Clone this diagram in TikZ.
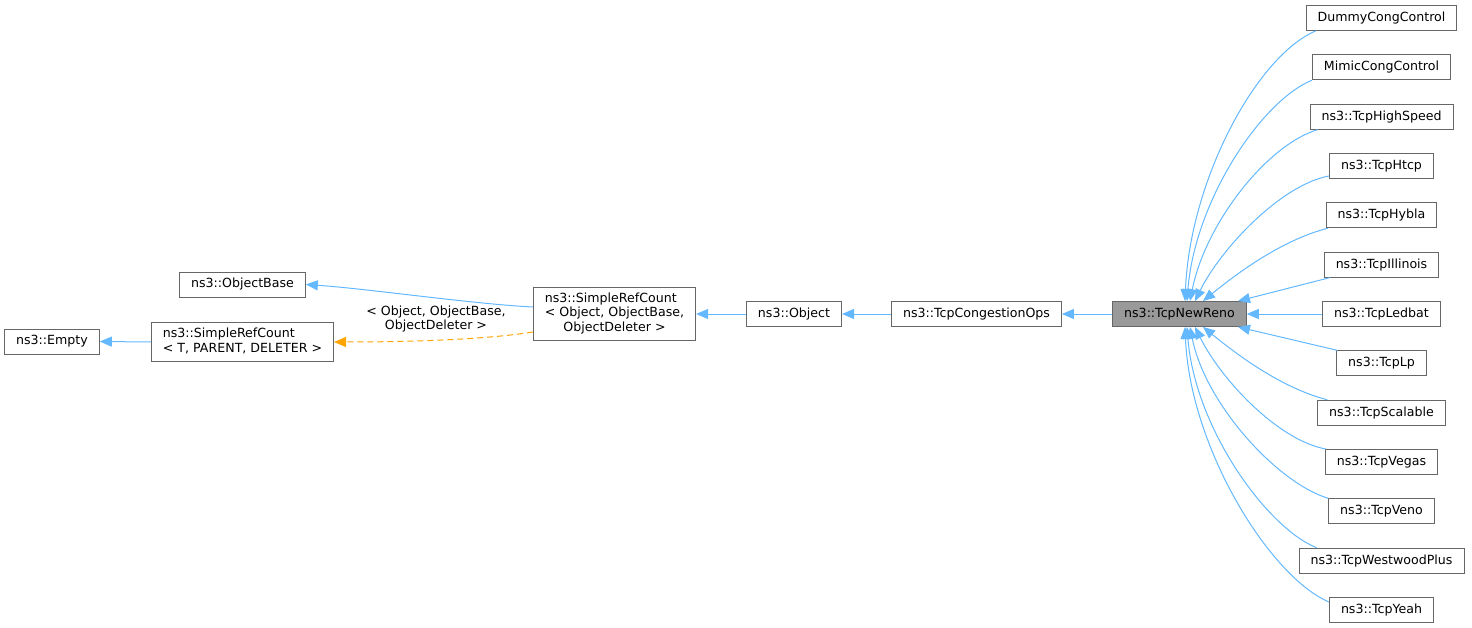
\documentclass[tikz,border=0pt]{standalone}
\usepackage{fontspec}
\setmainfont{DejaVu Sans}
\usetikzlibrary{arrows.meta}
\definecolor{edgeblue}{HTML}{63B8FF}
\definecolor{edgeorange}{HTML}{FFA500}
\definecolor{boxgray}{HTML}{666666}
\definecolor{boxfill}{HTML}{999999}

\begin{document}
\begin{tikzpicture}[x=1pt,y=-1pt,
    cls/.style={draw=boxgray,line width=0.9pt,inner xsep=11.5pt,inner ysep=5pt,minimum height=25pt,font=\fontsize{12.6}{14.5}\selectfont},
    inh/.style={draw=edgeblue,line width=1pt,-{Triangle[length=12pt,width=10pt]}},
    tmpl/.style={draw=edgeorange,line width=1pt,dash pattern=on 6pt off 4pt,-{Triangle[length=12pt,width=10pt]}}]
        \useasboundingbox (0,0) rectangle (1472,628);
        % base classes
        \node[cls] (empty) at (52,341.5) {ns3::Empty};
        \node[cls] (srcT) at (242.5,342) {\begin{tabular}{@{}l@{}}ns3::SimpleRefCount\\< T, PARENT, DELETER >\end{tabular}};
        \node[cls] (objBase) at (242.5,284.5) {ns3::ObjectBase};
        \node[cls] (srcObj) at (614.5,314) {\begin{tabular}{@{}l@{}}ns3::SimpleRefCount\\< Object, ObjectBase,\\\multicolumn{1}{@{}c@{}}{ObjectDeleter >}\end{tabular}};
        \node[cls] (object) at (794,314) {ns3::Object};
        \node[cls] (congOps) at (976.5,314) {ns3::TcpCongestionOps};
        \node[cls,fill=boxfill] (newReno) at (1179.5,314) {ns3::TcpNewReno};
        % derived classes
        \node[cls] (dummy) at (1381.5,18) {DummyCongControl};
        \node[cls] (mimic) at (1381.5,67.3) {MimicCongControl};
        \node[cls] (highSpeed) at (1381.5,116.7) {ns3::TcpHighSpeed};
        \node[cls] (htcp) at (1381.5,166) {ns3::TcpHtcp};
        \node[cls] (hybla) at (1381.5,215.3) {ns3::TcpHybla};
        \node[cls] (illinois) at (1381.5,264.7) {ns3::TcpIllinois};
        \node[cls] (ledbat) at (1381.5,314) {ns3::TcpLedbat};
        \node[cls] (lp) at (1381.5,363.3) {ns3::TcpLp};
        \node[cls] (scalable) at (1381.5,412.7) {ns3::TcpScalable};
        \node[cls] (vegas) at (1381.5,462) {ns3::TcpVegas};
        \node[cls] (veno) at (1381.5,511.3) {ns3::TcpVeno};
        \node[cls] (westwood) at (1381.5,560.7) {ns3::TcpWestwoodPlus};
        \node[cls] (yeah) at (1381.5,610) {ns3::TcpYeah};

        \draw[inh] (srcT.west) -- (empty.east);
        \draw[inh] ([yshift=7pt]srcObj.west) .. controls +(-60,-3) and +(60,4) .. (objBase.east);
        \draw[tmpl] ([yshift=-18pt]srcObj.west) .. controls +(-50,8) and +(70,0) .. (srcT.east)
            node[pos=0.5,above,xshift=-5pt,yshift=4pt,align=center,font=\fontsize{12.6}{14.5}\selectfont] (tmplArgs) {< Object, ObjectBase,\\ObjectDeleter >};
        \draw[inh] (object.west) -- (srcObj.east);
        \draw[inh] (congOps.west) -- (object.east);
        \draw[inh] (newReno.west) -- (congOps.east);

        \draw[inh] ([xshift=10pt]dummy.south west) .. controls +(-59,25) and +(5,-121) .. ([xshift=5.5pt]newReno.north);
        \draw[inh] (mimic.south west) .. controls +(-50,20) and +(8,-101) .. ([xshift=7.5pt]newReno.north);
        \draw[inh] ([xshift=8pt]highSpeed.south west) .. controls +(-52,16) and +(15,-76) .. ([xshift=10.5pt]newReno.north);
        \draw[inh] ([yshift=3pt]htcp.south west) .. controls +(-49,9) and +(25,-51) .. ([xshift=15.5pt]newReno.north);
        \draw[inh] ([xshift=2pt]hybla.south west) .. controls +(-47,12) and +(32,-26) .. ([xshift=23.5pt]newReno.north);
        \draw[inh] ([xshift=6pt]illinois.south west) -- ([xshift=58.5pt]newReno.north);
        \draw[inh] (ledbat.west) -- (newReno.east);
        \draw[inh] ([xshift=1pt]lp.north west) -- ([xshift=58.5pt]newReno.south);
        \draw[inh] ([xshift=10pt]scalable.north west) .. controls +(-47,-12) and +(32,26) .. ([xshift=23.5pt]newReno.south);
        \draw[inh] ([xshift=1pt]vegas.north west) .. controls +(-49,-9) and +(25,51) .. ([xshift=15.5pt]newReno.south);
        \draw[inh] (veno.north west) .. controls +(-52,-16) and +(15,76) .. ([xshift=10.5pt]newReno.south);
        \draw[inh] ([xshift=18pt]westwood.north west) .. controls +(-50,-20) and +(8,101) .. ([xshift=7.5pt]newReno.south);
        \draw[inh] ([yshift=-5pt]yeah.north west) .. controls +(-59,-25) and +(5,121) .. ([xshift=5.5pt]newReno.south);
      \end{tikzpicture}
\end{document}
